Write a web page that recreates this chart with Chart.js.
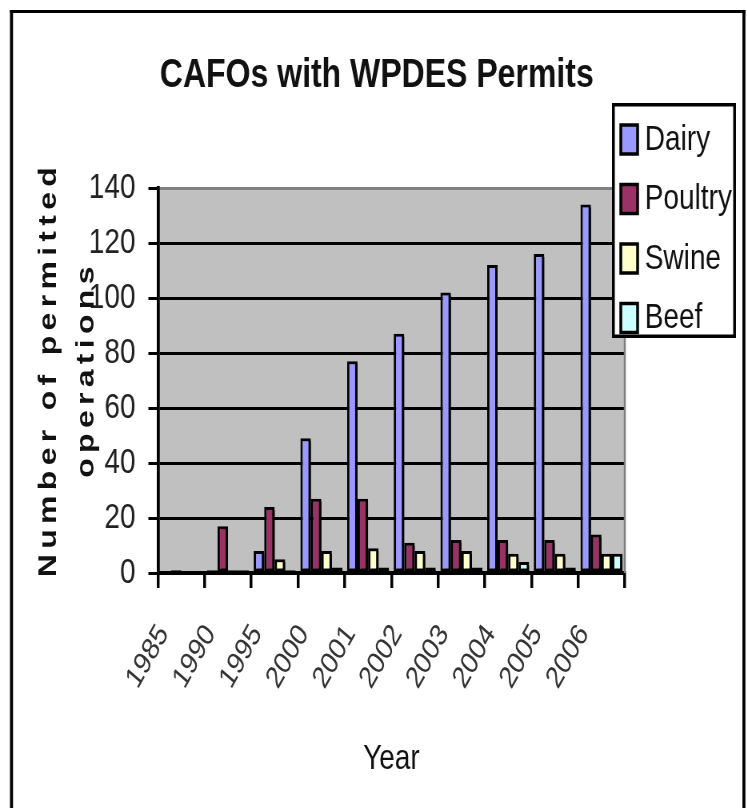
<!DOCTYPE html>
<html>
<head>
<meta charset="utf-8">
<title>CAFOs with WPDES Permits</title>
<script src="https://cdn.jsdelivr.net/npm/chart.js@4.4.0/dist/chart.umd.min.js"></script>
<style>
    html, body { margin: 0; padding: 0; background: #fff; overflow: hidden; }
    /* the original picture is horizontally condensed, so draw wide and squeeze */
    #wrap { width: 934px; height: 808px; transform: scaleX(0.8); transform-origin: 0 0; }
</style>
</head>
<body>
<div id="wrap"><canvas id="cafoChart" width="934" height="808"></canvas></div>
<script>
// Data
const years = ['1985', '1990', '1995', '2000', '2001', '2002', '2003', '2004', '2005', '2006'];
const dairy = [0, 1, 8, 49, 77, 87, 102, 112, 116, 134];
const poultry = [1, 17, 24, 27, 27, 11, 12, 12, 12, 14];
const swine = [0, 1, 5, 8, 9, 8, 8, 7, 7, 7];
const beef = [0, 1, 1, 2, 2, 2, 2, 4, 2, 7];
const yTicks = [0, 20, 40, 60, 80, 100, 120, 140];

const seriesNames = ['Dairy', 'Poultry', 'Swine', 'Beef'];
const seriesColors = ['#9999FF', '#993366', '#FFFFCC', '#CCFFFF'];

const sans = '"Liberation Sans", Arial, sans-serif';

// white page, outer frame, grey plot area, title
const backgroundPlugin = {
    id: 'background',
    beforeDraw(chart) {
        const { ctx, chartArea: a } = chart;
        ctx.save();
        ctx.fillStyle = '#fff';
        ctx.fillRect(0, 0, chart.width, chart.height);
        ctx.fillStyle = '#C0C0C0';
        ctx.fillRect(a.left, a.top, a.right - a.left, a.bottom - a.top);
        ctx.fillStyle = '#000';
        ctx.fillRect(12.5, 10, 3.8, 820);      // left frame
        ctx.fillRect(928, 10, 3.8, 820);       // right frame
        ctx.fillRect(12.5, 10, 919.3, 3);      // top frame
        ctx.fillStyle = '#111';
        ctx.font = 'bold 40px ' + sans;
        ctx.textAlign = 'center';
        ctx.textBaseline = 'middle';
        ctx.fillText('CAFOs with WPDES Permits', 471, 76);
        ctx.restore();
    },
    beforeDatasetsDraw(chart) {
        const { ctx, chartArea: a } = chart;
        ctx.save();
        ctx.strokeStyle = '#808080';
        ctx.lineWidth = 2.5;
        ctx.beginPath();
        ctx.moveTo(a.right, a.top);
        ctx.lineTo(a.right, a.bottom);
        ctx.stroke();
        ctx.restore();
    }
};

// black drop shadow behind the bars
const shadowPlugin = {
    id: 'barShadow',
    beforeDatasetsDraw(chart) {
        const ctx = chart.ctx;
        ctx.save();
        ctx.shadowColor = '#000';
        ctx.shadowBlur = 0;
        ctx.shadowOffsetX = 4;
        ctx.shadowOffsetY = 3;
    },
    afterDatasetsDraw(chart) {
        chart.ctx.restore();
    }
};

// spaced-out two line y title
const yTitlePlugin = {
    id: 'yTitle',
    afterDraw(chart) {
        const ctx = chart.ctx;
        const mid = (chart.chartArea.top + chart.chartArea.bottom) / 2 - 11;
        ctx.save();
        ctx.fillStyle = '#111';
        ctx.font = 'bold 32px ' + sans;
        ctx.letterSpacing = '5.3px';
        ctx.textAlign = 'center';
        ctx.textBaseline = 'middle';
        [['Number of permitted', 61], ['operations', 108]].forEach(([txt, x]) => {
            ctx.save();
            ctx.translate(x, mid);
            ctx.rotate(-Math.PI / 2);
            ctx.fillText(txt, 0, 0);
            ctx.restore();
        });
        ctx.restore();
    }
};

// boxed legend at top right
const legendBoxPlugin = {
    id: 'legendBox',
    afterDraw(chart) {
        const ctx = chart.ctx;
        const box = { x: 765, y: 103, w: 155, h: 235 };
        ctx.save();
        ctx.fillStyle = '#fff';
        ctx.fillRect(box.x, box.y, box.w, box.h);
        ctx.strokeStyle = '#000';
        ctx.lineWidth = 3.5;
        ctx.strokeRect(box.x + 1.75, box.y + 1.75, box.w - 3.5, box.h - 3.5);
        ctx.font = '35px ' + sans;
        ctx.textBaseline = 'middle';
        chart.data.datasets.forEach((ds, i) => {
            const cy = box.y + 36 + i * 59.5;
            ctx.fillStyle = ds.backgroundColor;
            ctx.fillRect(box.x + 11, cy - 14, 21, 29);
            ctx.lineWidth = 3.5;
            ctx.strokeRect(box.x + 11, cy - 14, 21, 29);
            ctx.fillStyle = '#111';
            ctx.fillText(ds.label, box.x + 41, cy + 1);
        });
        ctx.restore();
    }
};

const seriesData = [dairy, poultry, swine, beef];

new Chart(document.getElementById('cafoChart'), {
    type: 'bar',
    data: {
        labels: years,
        datasets: seriesNames.map((name, i) => ({
            label: name,
            data: seriesData[i],
            backgroundColor: seriesColors[i],
            borderColor: '#000',
            borderWidth: 3,
            borderSkipped: false,
            categoryPercentage: 0.9,
            barPercentage: 1.0
        }))
    },
    options: {
        responsive: false,
        animation: false,
        devicePixelRatio: 1,
        layout: { padding: { left: 0, right: 153, top: 188, bottom: 0 } },
        plugins: {
            legend: { display: false },
            tooltip: { enabled: false },
            title: { display: false }
        },
        scales: {
            x: {
                ticks: {
                    color: '#333',
                    font: { family: sans, size: 31 },
                    minRotation: 55,
                    maxRotation: 55,
                    autoSkip: false,
                    padding: 30,
                    labelOffset: -22
                },
                grid: { drawOnChartArea: false, color: '#000', lineWidth: 3.5, tickLength: 15 },
                border: { color: '#000', width: 4 },
                title: {
                    display: true,
                    text: 'Year',
                    color: '#111',
                    font: { family: sans, size: 35 },
                    padding: { top: 0, bottom: 28 }
                },
                afterFit(scale) { scale.height = 235; }
            },
            y: {
                min: 0,
                max: 140,
                afterBuildTicks(scale) { scale.ticks = yTicks.map(v => ({ value: v })); },
                ticks: { color: '#222', font: { family: sans, size: 35 }, padding: 16 },
                grid: {
                    color: c => (c.tick && c.tick.value === 140 ? '#808080' : '#000'),
                    lineWidth: 3,
                    tickLength: 12,
                    tickColor: '#000'
                },
                border: { color: '#000', width: 3.75 },
                afterFit(scale) { scale.width = 197.5; }
            }
        }
    },
    plugins: [backgroundPlugin, shadowPlugin, yTitlePlugin, legendBoxPlugin]
});
</script>
</body>
</html>
